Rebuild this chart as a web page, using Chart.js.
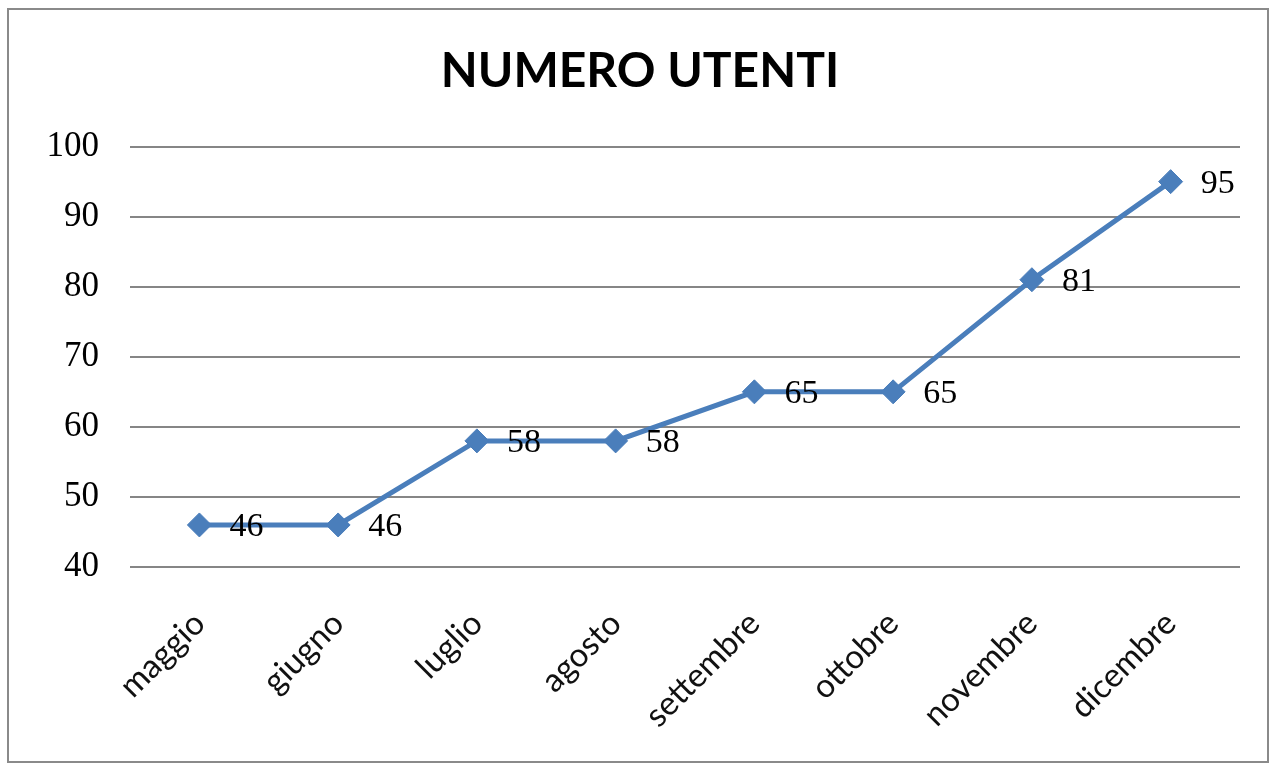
<!DOCTYPE html>
<html>
<head>
<meta charset="utf-8">
<script src="https://cdn.jsdelivr.net/npm/chart.js@4/dist/chart.umd.min.js"></script>
<style>
    body { margin: 0; background: #fff; }
    #wrap { position: relative; width: 1274px; height: 769px; }
</style>
</head>
<body>
<div id="wrap"><canvas id="utenti"></canvas></div>
<script>
var mesi = ['maggio', 'giugno', 'luglio', 'agosto', 'settembre', 'ottobre', 'novembre', 'dicembre'];
var utenti = [46, 46, 58, 58, 65, 65, 81, 95];
var yMin = 40;
var yMax = 100;
var yStep = 10;

// valori accanto ai punti
var valueLabels = {
    id: 'valueLabels',
    afterDatasetsDraw: function(chart) {
        var ctx = chart.ctx;
        var meta = chart.getDatasetMeta(0);
        ctx.save();
        ctx.font = '34px "Liberation Serif"';
        ctx.fillStyle = '#000';
        ctx.textAlign = 'left';
        ctx.textBaseline = 'middle';
        meta.data.forEach(function(pt, i) {
            ctx.fillText(String(chart.data.datasets[0].data[i]), pt.x + 30, pt.y + 2);
        });
        ctx.restore();
    }
};

// cornice grigia attorno al grafico
var frame = {
    id: 'frame',
    beforeDraw: function(chart) {
        var ctx = chart.ctx;
        ctx.save();
        ctx.fillStyle = '#fff';
        ctx.fillRect(0, 0, chart.width, chart.height);
        ctx.strokeStyle = '#8a8a8a';
        ctx.lineWidth = 2;
        ctx.strokeRect(8, 9, 1260, 753);
        ctx.restore();
    }
};

var chartObject = document.getElementById('utenti').getContext('2d');

new Chart(chartObject, {
    type: 'line',
    data: {
        labels: mesi,
        datasets: [
            {
                label: 'Numero utenti',
                data: utenti,
                borderColor: '#4a7ebb',
                backgroundColor: '#4a7ebb',
                borderWidth: 5,
                tension: 0,
                pointStyle: 'rectRot',
                pointRadius: 12,
                pointBorderWidth: 1,
                pointBackgroundColor: '#4a7ebb',
                pointBorderColor: '#4a7ebb'
            }
        ]
    },
    options: {
        responsive: true,
        maintainAspectRatio: false,
        animation: false,
        layout: { padding: { top: 0, left: 40, right: 34, bottom: 0 } },
        plugins: {
            legend: { display: false },
            tooltip: { enabled: false },
            title: {
                display: true,
                text: 'NUMERO UTENTI',
                color: '#000',
                font: { family: 'Lato', size: 48, weight: 'bold' },
                padding: { top: 43, bottom: 46 }
            }
        },
        scales: {
            x: {
                offset: true,
                grid: { display: false, drawTicks: false },
                border: { display: false },
                ticks: {
                    color: '#111',
                    font: { family: 'Lato', size: 33 },
                    minRotation: 45,
                    maxRotation: 45,
                    padding: 37
                },
                afterFit: function(scale) { scale.height = 202; }
            },
            y: {
                min: yMin,
                max: yMax,
                grid: { color: '#868686', lineWidth: 2, drawTicks: false },
                border: { display: false },
                ticks: {
                    stepSize: yStep,
                    color: '#000',
                    font: { family: 'Liberation Serif', size: 35 },
                    padding: 31
                },
                afterFit: function(scale) { scale.width = 90; }
            }
        }
    },
    plugins: [frame, valueLabels]
});
</script>
</body>
</html>
